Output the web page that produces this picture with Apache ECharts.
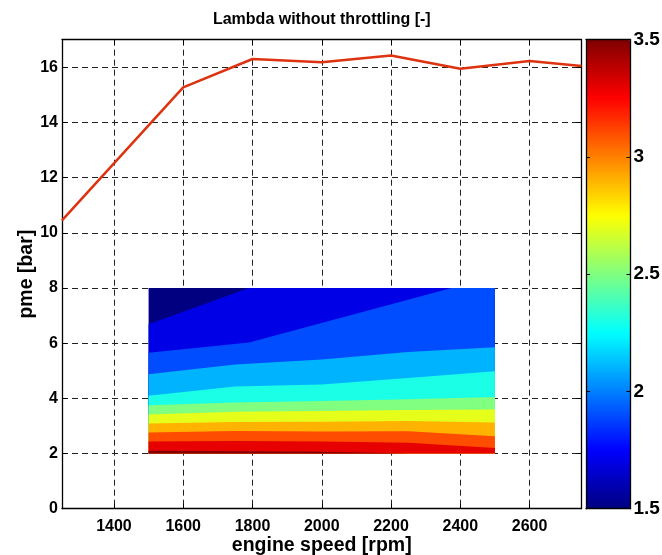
<!DOCTYPE html>
<html>
<head>
<meta charset="utf-8">
<script src="https://cdn.jsdelivr.net/npm/echarts@6/dist/echarts.min.js"></script>
<style>
  html, body { margin: 0; padding: 0; background: #fff; }
  #chart { width: 662px; height: 555px; }
</style>
</head>
<body>
<div id="chart"></div>
<script>
// Full-load line: engine speed [rpm] and pme [bar]
const lineRpm = [1250, 1600, 1800, 2000, 2200, 2400, 2600, 2750];
const linePme = [10.45, 15.27, 16.30, 16.18, 16.43, 15.95, 16.23, 16.05];

// Lambda map extent
const mapRpm = [1500, 2500];
const mapPme = [2, 8];

// Lambda contour levels and their iso-lines as [rpm, pme] points
const lambdaBase = 1.5;
const lambdaLevels = [1.7, 1.9, 2.1, 2.3, 2.5, 2.7, 2.9, 3.1, 3.3, 3.5];
const isoLines = [
  [[1500, 6.69], [1790, 8.00]],
  [[1500, 5.65], [1790, 6.02], [2375, 8.00]],
  [[1500, 4.87], [1750, 5.23], [2000, 5.41], [2250, 5.68], [2500, 5.85]],
  [[1500, 4.09], [1750, 4.43], [2000, 4.50], [2250, 4.74], [2500, 4.98]],
  [[1500, 3.75], [1750, 3.85], [2000, 3.90], [2250, 3.97], [2500, 4.05]],
  [[1500, 3.41], [1750, 3.51], [2000, 3.54], [2250, 3.58], [2500, 3.60]],
  [[1500, 3.09], [1750, 3.14], [2000, 3.15], [2250, 3.18], [2500, 3.12]],
  [[1500, 2.76], [1750, 2.82], [2000, 2.80], [2250, 2.81], [2500, 2.63]],
  [[1500, 2.44], [1750, 2.45], [2000, 2.44], [2250, 2.39], [2500, 2.20]],
  [[1500, 2.10], [1750, 2.08], [2000, 2.06], [2250, 2.00]]
];

// Colour bar range and ticks
const cbarRange = [1.5, 3.5];
const cbarStep = 0.5;

// MATLAB-style jet colour stops
const jetStops = ['#000080', '#0000ff', '#0080ff', '#00ffff', '#80ff80',
                  '#ffff00', '#ff8000', '#ff0000', '#800000'];

const FONT = 'Liberation Sans';
const tickFont = { fontFamily: FONT, fontWeight: 'bold', fontSize: 16, color: '#000' };
const nameFont = { fontFamily: FONT, fontWeight: 'bold', fontSize: 19.5, color: '#000' };

// Region of the map where lambda >= level (below the iso-line)
function regionBelow(line) {
  const pts = line.slice();
  const last = pts[pts.length - 1];
  const atTop = last[1] >= mapPme[1] && last[0] < mapRpm[1];
  const atRight = last[0] >= mapRpm[1];
  if (atTop) pts.push([mapRpm[1], mapPme[1]]);
  if (atTop || atRight) pts.push([mapRpm[1], mapPme[0]]);
  pts.push([mapRpm[0], mapPme[0]]);
  return pts;
}

const basePolygon = [
  [mapRpm[0], mapPme[0]], [mapRpm[1], mapPme[0]],
  [mapRpm[1], mapPme[1]], [mapRpm[0], mapPme[1]]
];
const bandPolygons = [basePolygon].concat(isoLines.map(regionBelow));
const bandData = [lambdaBase].concat(lambdaLevels).map(v => [v]);

const chart = echarts.init(document.getElementById('chart'), null, { renderer: 'canvas' });

const gridMain = { left: 62, right: 80.5, top: 39.7, bottom: 46.3,
                   containLabel: false, outerBoundsMode: 'none' };
const gridBar = { left: 586, width: 44.5, top: 39.7, bottom: 46.3,
                  containLabel: false, outerBoundsMode: 'none' };

const frameLine = { show: true, onZero: false, lineStyle: { color: '#000', width: 1.3 } };
const innerTick = { show: true, inside: true, length: 5, lineStyle: { color: '#000', width: 1 } };
const dashGrid = { show: true, lineStyle: { color: '#222', width: 1, type: [6, 4] } };
const plainNumber = v => String(v);

chart.setOption({
  animation: false,
  backgroundColor: '#fff',
  graphic: [{
    type: 'text',
    x: 321.8, y: 19.5,
    style: {
      text: 'Lambda without throttling [-]',
      align: 'center', verticalAlign: 'middle',
      font: 'bold 16px "' + FONT + '"', fill: '#000'
    }
  }],
  grid: [gridMain, gridBar],
  visualMap: {
    type: 'continuous',
    min: cbarRange[0], max: cbarRange[1],
    seriesIndex: 0, dimension: 0,
    calculable: false, showLabel: false, hoverLink: false,
    itemWidth: 44.5, itemHeight: 469,
    left: 586, top: 39.7, padding: 0,
    inRange: { color: jetStops }
  },
  xAxis: [
    {
      type: 'value', gridIndex: 0, min: 1250, max: 2750, splitNumber: 7,
      axisLine: frameLine, axisTick: innerTick, splitLine: dashGrid,
      axisLabel: Object.assign({ margin: 10, showMinLabel: false, showMaxLabel: false,
                                 formatter: plainNumber }, tickFont),
      name: 'engine speed [rpm]', nameLocation: 'middle', nameGap: 27,
      nameMoveOverlap: false,
      nameTextStyle: Object.assign({}, nameFont)
    },
    {
      type: 'value', gridIndex: 0, position: 'top', min: 1250, max: 2750, splitNumber: 7,
      axisLine: frameLine, axisTick: innerTick, splitLine: { show: false },
      axisLabel: { show: false }
    },
    {
      type: 'value', gridIndex: 1, min: 0, max: 1, z: 10,
      axisLine: frameLine, axisTick: { show: false }, splitLine: { show: false },
      axisLabel: { show: false }
    },
    {
      type: 'value', gridIndex: 1, position: 'top', min: 0, max: 1, z: 10,
      axisLine: frameLine, axisTick: { show: false }, splitLine: { show: false },
      axisLabel: { show: false }
    }
  ],
  yAxis: [
    {
      type: 'value', gridIndex: 0, min: 0, max: 17, interval: 2,
      axisLine: frameLine, axisTick: innerTick, splitLine: dashGrid,
      axisLabel: Object.assign({ margin: 4, showMaxLabel: false, formatter: plainNumber }, tickFont),
      name: 'pme [bar]', nameLocation: 'middle', nameGap: 25, nameRotate: 90,
      nameMoveOverlap: false,
      nameTextStyle: Object.assign({}, nameFont)
    },
    {
      type: 'value', gridIndex: 0, position: 'right', min: 0, max: 17, interval: 2,
      axisLine: frameLine, axisTick: innerTick, splitLine: { show: false },
      axisLabel: { show: false }
    },
    {
      type: 'value', gridIndex: 1, position: 'right', z: 10,
      min: cbarRange[0], max: cbarRange[1], interval: cbarStep,
      axisLine: frameLine,
      axisTick: { show: true, inside: true, length: 4, lineStyle: { color: '#000' } },
      splitLine: { show: false },
      axisLabel: Object.assign({ margin: 3, formatter: plainNumber }, tickFont, { fontSize: 19 })
    },
    {
      type: 'value', gridIndex: 1, position: 'left', z: 10,
      min: cbarRange[0], max: cbarRange[1], interval: cbarStep,
      axisLine: frameLine,
      axisTick: { show: true, inside: true, length: 4, lineStyle: { color: '#000' } },
      splitLine: { show: false },
      axisLabel: { show: false }
    }
  ],
  series: [
    {
      type: 'custom',
      name: 'lambda',
      xAxisIndex: 0, yAxisIndex: 0,
      data: bandData,
      silent: true,
      renderItem: function (params, api) {
        const poly = bandPolygons[params.dataIndex];
        return {
          type: 'polygon',
          shape: { points: poly.map(p => api.coord(p)) },
          style: { fill: api.visual('color'), stroke: null }
        };
      }
    },
    {
      type: 'line',
      name: 'full load',
      xAxisIndex: 0, yAxisIndex: 0,
      data: lineRpm.map((x, i) => [x, linePme[i]]),
      symbol: 'none',
      lineStyle: { color: '#dd3311', width: 2.5 },
      silent: true,
      z: 3
    }
  ]
});
</script>
</body>
</html>
